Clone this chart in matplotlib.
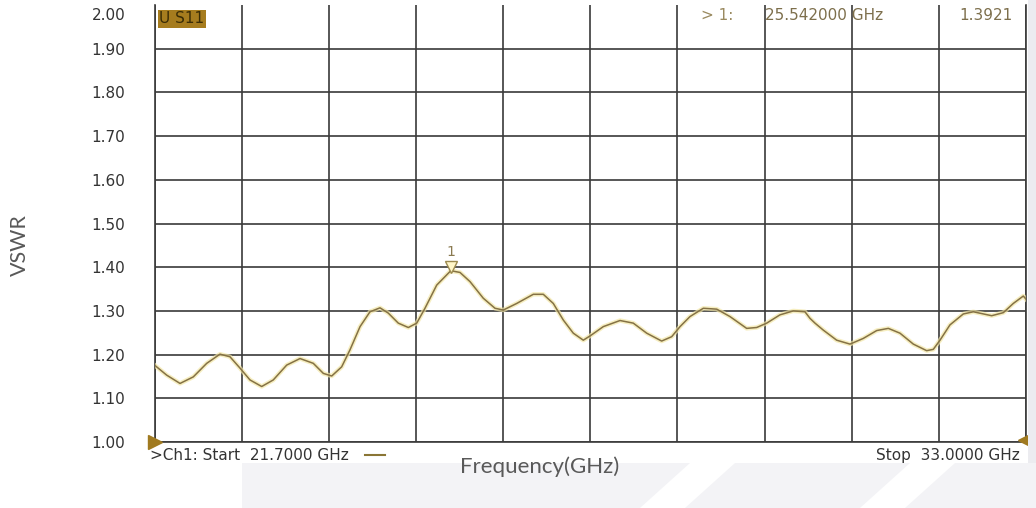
import matplotlib
matplotlib.use("Agg")
import matplotlib.pyplot as plt
from matplotlib.patches import Polygon, Rectangle
from matplotlib.lines import Line2D

# trace (S11 as VSWR)
freq_ghz = [21.700, 21.858, 22.031, 22.203, 22.377, 22.549, 22.679, 22.809, 22.938, 23.090,
            23.240, 23.414, 23.587, 23.759, 23.889, 23.998, 24.127, 24.235, 24.365, 24.494,
            24.624, 24.731, 24.861, 24.991, 25.100, 25.207, 25.359, 25.542, 25.661, 25.791,
            25.963, 26.115, 26.223, 26.396, 26.612, 26.741, 26.871, 27.001, 27.130, 27.260,
            27.350, 27.519, 27.736, 27.908, 28.082, 28.276, 28.406, 28.514, 28.643, 28.816,
            28.990, 29.162, 29.378, 29.508, 29.638, 29.810, 29.983, 30.134, 30.199, 30.264,
            30.372, 30.545, 30.718, 30.890, 31.064, 31.215, 31.366, 31.539, 31.712, 31.798,
            31.885, 32.014, 32.187, 32.317, 32.555, 32.706, 32.835, 32.965, 33.000]
vswr = [1.176, 1.153, 1.134, 1.149, 1.180, 1.201, 1.195, 1.169, 1.142, 1.127,
        1.142, 1.176, 1.191, 1.180, 1.157, 1.151, 1.172, 1.211, 1.264, 1.298,
        1.307, 1.295, 1.272, 1.262, 1.272, 1.306, 1.359, 1.392, 1.388, 1.367,
        1.329, 1.306, 1.302, 1.317, 1.338, 1.338, 1.317, 1.279, 1.249, 1.233,
        1.243, 1.264, 1.278, 1.272, 1.249, 1.231, 1.241, 1.264, 1.287, 1.306,
        1.304, 1.287, 1.260, 1.262, 1.272, 1.291, 1.300, 1.298, 1.283, 1.272,
        1.256, 1.233, 1.224, 1.237, 1.255, 1.260, 1.249, 1.224, 1.209, 1.212,
        1.233, 1.268, 1.293, 1.298, 1.289, 1.296, 1.317, 1.334, 1.327]

start_ghz = 21.7
stop_ghz = 33.0
y_ticks = [1.00, 1.10, 1.20, 1.30, 1.40, 1.50, 1.60, 1.70, 1.80, 1.90]
marker_freq = 25.542
marker_val = 1.3921

W, H = 1036, 508
fig = plt.figure(figsize=(W / 100, H / 100), dpi=100)
fig.patch.set_facecolor("white")

# slide background under the screenshot (light grey with white diagonal bands)
fig.patches.append(Rectangle((242 / W, 0), 1 - 242 / W, 45 / H, transform=fig.transFigure,
                             facecolor="#f3f3f6", edgecolor="none", zorder=0))
for x0 in (640, 860):
    pts = [((x0) / W, 0), ((x0 + 45) / W, 0), ((x0 + 95) / W, 45 / H), ((x0 + 50) / W, 45 / H)]
    fig.patches.append(Polygon(pts, closed=True, transform=fig.transFigure,
                               facecolor="white", edgecolor="none", zorder=0))
# grey strip right of the analyser frame
fig.patches.append(Rectangle((1028 / W, 45 / H), 8 / W, 1 - 45 / H, transform=fig.transFigure,
                             facecolor="#ececf0", edgecolor="none", zorder=0))

ax = fig.add_axes([154.5 / W, 1 - 442 / H, (1026 - 154.5) / W, (442 - 5) / H])
ax.set_xlim(start_ghz, stop_ghz)
ax.set_ylim(1.0, 2.0)

grid_c = "#3a3a3a"
step = (stop_ghz - start_ghz) / 10
ax.set_xticks([start_ghz + i * step for i in range(11)])
ax.set_yticks(y_ticks)
ax.grid(True, color=grid_c, linewidth=1.2)
ax.tick_params(length=0, labelbottom=False)
ax.set_yticklabels([f"{v:.2f}" for v in y_ticks], family="DejaVu Sans", fontsize=11,
                   color="#333333")
ax.tick_params(axis="y", pad=21)
for s in ("left", "bottom", "right"):
    ax.spines[s].set_color(grid_c)
    ax.spines[s].set_linewidth(1.2)
ax.spines["top"].set_visible(False)
ax.text(-0.0335, 1.977, "2.00", transform=ax.get_yaxis_transform(), ha="right", va="center",
        family="DejaVu Sans", fontsize=11, color="#333333")

# trace with a faint yellow glow like the jpeg
ax.plot(freq_ghz, vswr, color="#f3e7a6", linewidth=3.2, alpha=0.7, zorder=3)
ax.plot(freq_ghz, vswr, color="#857245", linewidth=1.1, zorder=4)

# marker 1
ax.plot([marker_freq], [marker_val + 0.008], marker="v", markersize=8, markerfacecolor="#fff6c8",
        markeredgecolor="#9c8a50", linestyle="none", zorder=5)
ax.text(marker_freq, marker_val + 0.027, "1", ha="center", va="bottom", fontsize=10,
        family="DejaVu Sans", color="#8a7a50", zorder=5)

# start / stop arrows on the frame
ax.plot([start_ghz], [1.0], marker=">", markersize=10, color="#a07a20", clip_on=False, zorder=6)
ax.plot([stop_ghz], [1.005], marker="<", markersize=11, color="#a07a20", clip_on=False, zorder=6)

# analyser annotations
vna_font = dict(family="DejaVu Sans", fontsize=11)
ax.text(0.0055, 1.968, "U S11", transform=ax.get_yaxis_transform(), ha="left", va="center",
        color="#3a2c05", bbox=dict(boxstyle="square,pad=0.1", facecolor="#a67c1e",
                                   edgecolor="none"), **vna_font)
ax.text(0.627, 1.977, "> 1:", transform=ax.get_yaxis_transform(), ha="left", va="center",
        color="#9a8a60", **vna_font)
ax.text(0.70, 1.977, "25.542000 GHz", transform=ax.get_yaxis_transform(), ha="left",
        va="center", color="#7d6f4c", **vna_font)
ax.text(0.985, 1.977, "1.3921", transform=ax.get_yaxis_transform(), ha="right", va="center",
        color="#7d6f4c", **vna_font)
ax.text(-0.005, -0.03, ">Ch1: Start  21.7000 GHz", transform=ax.transAxes, ha="left",
        va="center", color="#333333", **vna_font)
ax.add_line(Line2D([0.242, 0.265], [-0.03, -0.03], transform=ax.transAxes, color="#8a7535",
                   linewidth=1.5, clip_on=False))
ax.text(0.993, -0.03, "Stop  33.0000 GHz", transform=ax.transAxes, ha="right", va="center",
        color="#333333", **vna_font)

# slide axis titles
fig.text(20 / W, 1 - 245 / H, "VSWR", rotation=90, ha="center", va="center",
         family="Lato", fontsize=15.5, color="#595959")
fig.text(540 / W, 1 - 467 / H, "Frequency(GHz)", ha="center", va="center",
         family="Lato", fontsize=16, color="#595959")

fig.savefig("out.png", dpi=100, facecolor="white")
